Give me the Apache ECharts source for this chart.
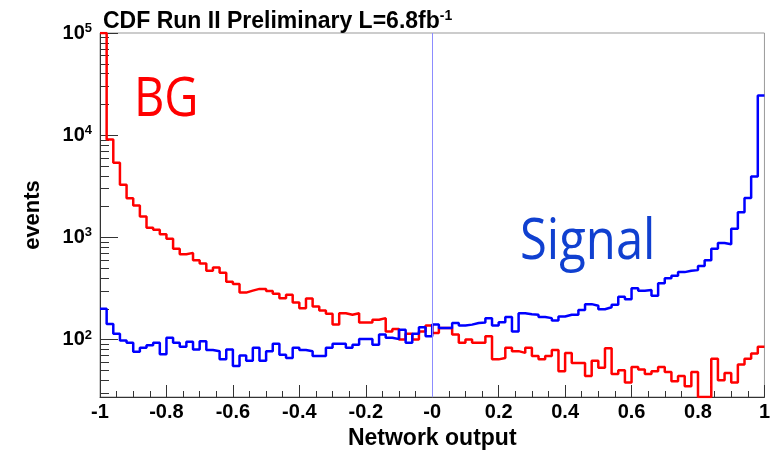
<!DOCTYPE html>
<html><head><meta charset="utf-8">
<script src="https://cdn.jsdelivr.net/npm/echarts@6/dist/echarts.min.js"></script>
<style>html,body{margin:0;padding:0;background:#fff}#c{width:773px;height:455px}</style>
</head><body><div id="c"></div>
<script>
// ---- data ----
const X_MIN = -1, X_MAX = 1, BIN_WIDTH = 0.02;   // 100 bins
const BG = [
  100000, 9060, 5380, 3270, 2410, 2050, 1600, 1240, 1185, 1070,
  968, 774, 684, 705, 598, 555, 471, 507, 450, 368,
  350, 288, 301, 313, 313, 299, 280, 254, 274, 230,
  203, 252, 210, 192, 179, 140, 181, 175, 181, 147,
  147, 156, 162, 120, 127, 100, 114, 100, 120, 137,
  116, 130, 130, 112, 93, 100, 93, 93, 108, 64,
  66, 83, 77, 74, 83, 69, 64, 69, 79, 49,
  74, 59, 59, 44, 62, 53, 82, 46, 50, 38,
  54, 51, 46, 49, 54, 48, 39, 44, 35, 48,
  27.4, 27.4, 65, 40, 47, 38, 57, 65, 73, 85
];
const SIGNAL = [
  200, 142, 114, 98, 93, 76, 83, 88, 93, 72,
  104, 93, 85, 95, 80, 96, 79, 77, 64, 80,
  55, 70, 62, 83, 62, 77, 91, 71, 66, 83,
  79, 77, 69, 69, 83, 91, 91, 83, 89, 101,
  101, 89, 112, 104, 101, 125, 93, 114, 132, 108,
  140, 130, 130, 145, 137, 140, 145, 147, 162, 137,
  148, 166, 120, 181, 177, 175, 166, 162, 154, 168,
  175, 175, 195, 222, 214, 198, 207, 219, 263, 248,
  317, 301, 306, 269, 355, 397, 421, 457, 471, 478,
  526, 598, 775, 880, 855, 1211, 1762, 2423, 3935, 24400
];
const X_TICK_LABELS = ['-1','-0.8','-0.6','-0.4','-0.2','-0','0.2','0.4','0.6','0.8','1'];
const Y_MIN = 27.4, Y_MAX = 100000;
const Y_MAJOR_EXP = [2, 3, 4, 5];
const Y_MINOR_MULT = [2, 3, 4, 5, 6, 7, 8, 9];
const TITLE_MAIN = 'CDF Run II Preliminary L=6.8fb', TITLE_SUP = '-1';

// ---- build ----
function stepData(vals) {
  const d = vals.map((v, i) => [X_MIN + i * BIN_WIDTH, Math.log10(v)]);
  d.push([X_MAX, Math.log10(vals[vals.length - 1])]);
  return d;
}
const minorTicks = [];
for (let e = 1; e <= 4; e++) for (const k of Y_MINOR_MULT) {
  const v = k * Math.pow(10, e);
  if (v >= Y_MIN && v <= Y_MAX) minorTicks.push(Math.log10(v));
}
const FONT = 'Liberation Sans, Arial, sans-serif';
const yMin = Math.log10(Y_MIN), yMax = Math.log10(Y_MAX);

const chart = echarts.init(document.getElementById('c'), null, {renderer: 'canvas'});
chart.setOption({
  animation: false,
  backgroundColor: '#fff',
  title: {
    left: 98, top: 4,
    text: '{a|' + TITLE_MAIN + '}{b|' + TITLE_SUP + '}',
    textStyle: {
      rich: {
        a: {fontSize: 23, fontWeight: 'bold', fontFamily: FONT, color: '#000'},
        b: {fontSize: 14, fontWeight: 'bold', fontFamily: FONT, color: '#000', verticalAlign: 'bottom', padding: [0, 0, 11, 0]}
      }
    }
  },
  grid: {left: 100, right: 8, top: 33, bottom: 55, show: true, borderColor: '#999', borderWidth: 1, containLabel: false},
  xAxis: {
    type: 'value', min: X_MIN, max: X_MAX, interval: 0.2,
    axisLine: {show: true, onZero: false, lineStyle: {color: '#333', width: 1}},
    axisTick: {show: true, inside: true, length: 12, lineStyle: {color: '#333'}},
    minorTick: {show: true, splitNumber: 4, length: 6, lineStyle: {color: '#333'}},
    splitLine: {show: false},
    axisLabel: {
      fontSize: 20, fontWeight: 'bold', fontFamily: FONT, color: '#000', margin: 5,
      formatter: v => X_TICK_LABELS[Math.round((v - X_MIN) / 0.2)]
    },
    name: 'Network output', nameLocation: 'middle', nameGap: 30,
    nameTextStyle: {fontSize: 23, fontWeight: 'bold', fontFamily: FONT, color: '#000'}
  },
  yAxis: [{
    type: 'value', min: yMin, max: yMax,
    axisLine: {show: true, onZero: false, lineStyle: {color: '#333', width: 1}},
    axisTick: {show: true, inside: true, length: 18, customValues: Y_MAJOR_EXP, lineStyle: {color: '#333'}},
    splitLine: {show: false},
    axisLabel: {
      customValues: Y_MAJOR_EXP, margin: 8,
      formatter: v => '{b|10}{s|' + Math.round(v) + '}',
      rich: {
        b: {fontSize: 20, fontWeight: 'bold', fontFamily: FONT, color: '#000'},
        s: {fontSize: 13, fontWeight: 'bold', fontFamily: FONT, color: '#000', verticalAlign: 'bottom', padding: [0, 0, 9, 0]}
      }
    },
    name: 'events', nameLocation: 'middle', nameGap: 56, nameRotate: 90,
    nameTextStyle: {fontSize: 22, fontWeight: 'bold', fontFamily: FONT, color: '#000'}
  }, {
    type: 'value', min: yMin, max: yMax, position: 'left',
    axisLine: {show: false, onZero: false},
    axisTick: {show: true, inside: true, length: 9, customValues: minorTicks, lineStyle: {color: '#333'}},
    axisLabel: {show: false},
    splitLine: {show: false}
  }],
  series: [{
    name: 'BG', type: 'line', step: 'end', yAxisIndex: 0,
    data: stepData(BG), showSymbol: false, symbol: 'none',
    lineStyle: {color: '#ff0000', width: 2.5}, clip: true
  }, {
    name: 'Signal', type: 'line', step: 'end', yAxisIndex: 0,
    data: stepData(SIGNAL), showSymbol: false, symbol: 'none',
    lineStyle: {color: '#0000ff', width: 2.5}, clip: true,
    markLine: {
      silent: true, symbol: ['none', 'none'], label: {show: false},
      lineStyle: {color: '#8c8cff', width: 1, type: 'solid'},
      data: [{xAxis: 0}]
    }
  }],
  graphic: [{
    type: 'text', x: 134, y: 100, scaleY: 1.18,
    style: {text: 'BG', fontSize: 47, fontFamily: 'Open Sans, Noto Sans, sans-serif', fill: '#ff0000', textVerticalAlign: 'middle'}
  }, {
    type: 'text', x: 520, y: 243, scaleY: 1.15,
    style: {text: 'Signal', fontSize: 49, fontFamily: 'Open Sans, Noto Sans, sans-serif', fill: '#1040d0', textVerticalAlign: 'middle'}
  }]
});
</script></body></html>
